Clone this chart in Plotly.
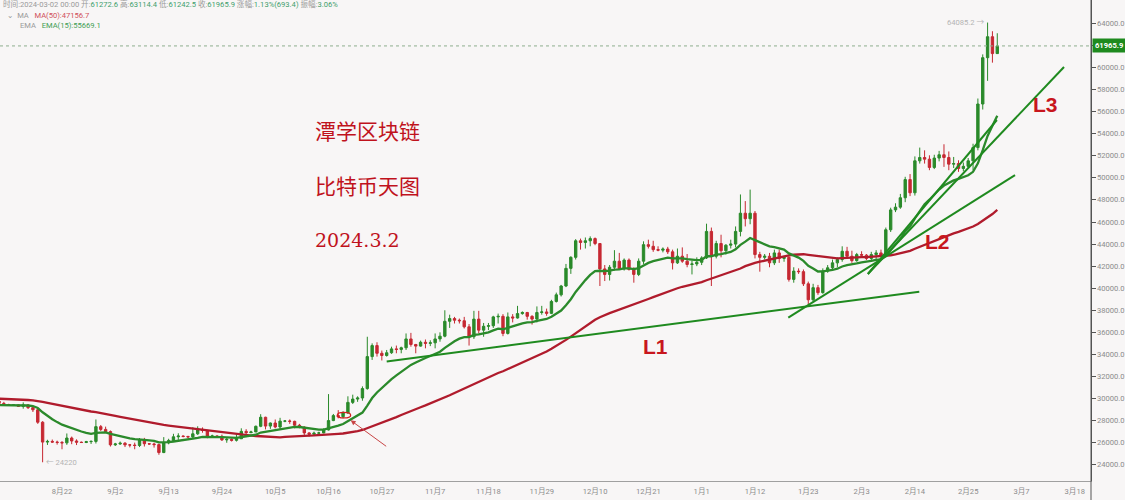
import plotly.graph_objects as go
import pandas as pd

# ---------------- data ----------------
# closes before the visible window (2023-06-20 .. 2023-08-08), only used to warm up MA/EMA
warmup_close = [28300, 30000, 29900, 30700, 30550, 30480, 30270, 30700, 30080, 30450, 30480,
                30590, 30620, 31160, 30770, 30510, 29900, 30350, 30290, 30170, 30410, 30620,
                30390, 31470, 30320, 30290, 30250, 30140, 29860, 29910, 29800, 29910, 29800,
                30080, 29180, 29230, 29350, 29220, 29310, 29350, 29280, 29230,
                29700, 29180, 29180, 29080, 29050, 29040, 29180, 29770]

start_date = "2023-08-09"
end_date = "2024-03-02"

opens = [
    # Aug 9-31
    29770, 29560, 29430, 29400, 29420, 29290, 29420, 29170, 28980, 27850, 26050, 26110, 26050, 26020,
    25980, 26420, 26150, 26040, 26010, 26090, 26110, 27450, 27200,
    # Sep
    27000, 25800, 25880, 25950, 25800, 25780, 25740, 26230, 25900, 25880, 25820, 25100, 25980, 26200,
    26530, 26600, 26560, 26520, 26800, 27200, 27100, 26580, 26600, 26570, 26250, 26300, 26210, 26350,
    27020, 26900,
    # Oct
    26970, 27480, 28300, 27500, 27780, 27420, 27950, 27960, 27930, 27580, 27400, 26880, 26760, 26860,
    26880, 27150, 28000, 28450, 28350, 28700, 29650, 29950, 30050, 30900, 33800, 34800, 34100, 33900,
    34150, 34500, 34450,
    # Nov
    34600, 35400, 34900, 34750, 35100, 35000, 35050, 35400, 35650, 37000, 37250, 37100, 37050, 36500,
    35600, 37200, 36200, 36550, 36600, 37400, 37450, 35900, 37400, 37300, 37700, 37800, 37450, 37200,
    37800, 37850,
    # Dec
    37720, 38800, 39400, 40200, 41800, 42800, 44300, 44150, 44300, 44500, 44050, 41750, 41250, 41900,
    42450, 41750, 42550, 41700, 41250, 42450, 43950, 43800, 43500, 43450, 43550, 43300, 42300, 42900,
    42450, 42150, 42200,
    # Jan
    42350, 42750, 45150, 42900, 44050, 43400, 43900, 44000, 45150, 46800, 46300, 46800, 43050, 42800,
    42900, 42300, 43200, 42700, 42800, 40800, 41550, 41500, 40400, 38950, 40050, 39600, 41550, 41850,
    42300, 42600, 43350,
    # Feb
    42900, 42500, 43050, 43000, 42700, 43050, 43200, 42950, 45300, 47100, 47350, 48200, 49850, 48650,
    51550, 51850, 51700, 50950, 51800, 52100, 51850, 51250, 51300, 50850, 51050, 51550, 52750, 56700,
    60900,
    # Mar
    62800, 61272.6,
]
highs = [
    30050, 29700, 29520, 29470, 29460, 29650, 29480, 29230, 29050, 27950, 26260, 26280, 26180, 26140,
    26830, 26550, 26300, 26100, 26160, 26200, 28100, 27600, 27450,
    27100, 25980, 26100, 26050, 25880, 26000, 26420, 26430, 25950, 26000, 25900, 26500, 26350, 26800,
    26850, 26650, 26620, 27400, 27480, 27380, 27150, 26720, 26640, 26730, 26420, 26380, 26800, 27300,
    27220, 27080,
    27550, 28580, 28350, 27820, 28100, 28250, 28050, 28100, 27990, 27700, 27480, 26950, 27000, 26990,
    27300, 30400, 28600, 28950, 28850, 30200, 30350, 30200, 31100, 35600, 35000, 35100, 34350, 34400,
    34700, 34800, 34700,
    35900, 35950, 34950, 35250, 35350, 35280, 35900, 36000, 38000, 37600, 37400, 37250, 37400, 36750,
    37950, 37950, 36850, 36850, 37500, 37700, 37650, 37800, 37650, 38400, 37900, 37850, 37550, 38350,
    38400, 38150,
    38950, 39600, 40300, 42200, 42900, 44450, 44500, 44600, 44700, 44600, 44100, 42100, 42100, 43450,
    43200, 42700, 42700, 41900, 42700, 44250, 44400, 44300, 43800, 43700, 43750, 43500, 43600, 43700,
    43100, 42500, 42800,
    42900, 45850, 45500, 44300, 44850, 44000, 44400, 45600, 48500, 47900, 48940, 47000, 43300, 43100,
    43200, 43500, 43500, 42950, 42900, 41900, 41800, 41700, 40600, 40400, 40300, 41800, 42100, 42600,
    42800, 43800, 43750,
    43400, 43200, 43350, 43100, 43300, 43450, 43500, 45500, 47300, 47700, 48550, 50100, 50350, 51950,
    52750, 52500, 52050, 52100, 52450, 53050, 52400, 51900, 51600, 51400, 51800, 53100, 57200, 61200,
    64085.2,
    63300, 63114.4,
]
lows = [
    29380, 29330, 29340, 29360, 29250, 29080, 29050, 28780, 27700, 24220, 25790, 25990, 25820, 25400,
    25800, 25860, 25780, 25980, 25960, 25880, 25920, 27050, 26900,
    25650, 25700, 25800, 25600, 25570, 25400, 25600, 25650, 25800, 25550, 24900, 25050, 25850, 26150,
    26250, 26480, 26410, 26400, 26700, 26900, 26400, 26500, 26520, 26150, 25990, 26100, 26100, 26330,
    26700, 26880,
    26950, 27400, 27200, 27250, 27300, 27200, 27850, 27700, 27300, 27300, 26560, 26550, 26700, 26820,
    26850, 27100, 27950, 28200, 28200, 28600, 29500, 29700, 29800, 30800, 33500, 33800, 33450, 33800,
    34050, 34100, 34100,
    34400, 34700, 34100, 34700, 34550, 34750, 34550, 35150, 35550, 36400, 36800, 36800, 36350, 34800,
    35400, 35900, 35600, 36200, 36400, 36800, 35650, 35800, 36900, 37250, 37600, 37150, 36700, 36900,
    37600, 37500,
    37650, 38700, 39250, 40100, 41300, 42600, 43500, 43600, 43800, 43900, 40200, 40650, 40700, 41600,
    41650, 41600, 41600, 40500, 41100, 42200, 43600, 43300, 43350, 43250, 43100, 41700, 42200, 42300,
    41900, 41250, 42000,
    42100, 42650, 40200, 42700, 42800, 43050, 43600, 43700, 44700, 45600, 45800, 42700, 41500, 42600,
    41900, 42100, 42300, 42400, 40600, 40500, 41300, 40200, 38500, 38800, 39400, 39500, 41400, 41700,
    41900, 42400, 42700,
    42300, 42400, 42850, 42550, 42500, 42650, 42800, 42800, 45100, 46900, 47200, 47800, 48350, 48400,
    51300, 51300, 50700, 50800, 51500, 51000, 50700, 50900, 50550, 50600, 50900, 50700, 52500, 56200,
    58800,
    60450, 61242.5,
]
closes = [
    29560, 29430, 29400, 29420, 29290, 29420, 29170, 28980, 27850, 26050, 26110, 26050, 26020, 25980,
    26420, 26150, 26040, 26010, 26090, 26110, 27450, 27200, 27000,
    25800, 25880, 25950, 25800, 25780, 25740, 26230, 25900, 25880, 25820, 25100, 25980, 26200, 26530,
    26600, 26560, 26520, 26800, 27200, 27100, 26580, 26600, 26570, 26250, 26300, 26210, 26350, 27020,
    26900, 26970,
    27480, 28300, 27500, 27780, 27420, 27950, 27960, 27930, 27580, 27400, 26880, 26760, 26860, 26880,
    27150, 28000, 28450, 28350, 28700, 29650, 29950, 30050, 30900, 33800, 34800, 34100, 33900, 34150,
    34500, 34450, 34600,
    35400, 34900, 34750, 35100, 35000, 35050, 35400, 35650, 37000, 37250, 37100, 37050, 36500, 35600,
    37200, 36200, 36550, 36600, 37400, 37450, 35900, 37400, 37300, 37700, 37800, 37450, 37200, 37800,
    37850, 37720,
    38800, 39400, 40200, 41800, 42800, 44300, 44150, 44300, 44500, 44050, 41750, 41250, 41900, 42450,
    41750, 42550, 41700, 41250, 42450, 43950, 43800, 43500, 43450, 43550, 43300, 42300, 42900, 42450,
    42150, 42200, 42350,
    42750, 45150, 42900, 44050, 43400, 43900, 44000, 45150, 46800, 46300, 46800, 43050, 42800, 42900,
    42300, 43200, 42700, 42800, 40800, 41550, 41500, 40400, 38950, 40050, 39600, 41550, 41850, 42300,
    42600, 43350, 42900,
    42500, 43050, 43000, 42700, 43050, 43200, 42950, 45300, 47100, 47350, 48200, 49850, 48650, 51550,
    51850, 51700, 50950, 51800, 52100, 51850, 51250, 51300, 50850, 51050, 51550, 52750, 56700, 60900,
    62800,
    61272.6, 61965.9,
]

# hand-drawn trend lines (date, price)
trend_names = ["L1", "L2", "L3", "steep"]
trend_start_dates = ["2023-10-28 00:00", "2024-01-18 21:00", "2024-02-04 07:00", "2024-02-04 07:00"]
trend_start_prices = [33357, 37328, 41290, 41290]
trend_end_dates = ["2024-02-14 21:40", "2024-03-05 15:50", "2024-03-15 18:30", "2024-03-01 22:00"]
trend_end_prices = [39685, 50247, 60056, 55251]

tick_dates = pd.date_range("2023-08-22", "2024-03-18", freq="11D")
tick_text = [f"{d.month}月{d.day}" for d in tick_dates]
price_ticks = list(range(24000, 64001, 2000))

hdr_labels = ["时间", "开", "高", "低", "收", "涨幅", "振幅"]
hdr_values = ["2024-03-02 00:00", "61272.6", "63114.4", "61242.5", "61965.9", "1.13%(693.4)", "3.06%"]
last_price = 61965.9
max_high = 64085.2
min_low = 24220
ma_label = "MA(50):47156.7"
ema_label = "EMA(15):55669.1"

# ---------------- derived ----------------
dates = pd.date_range(start_date, end_date, freq="D")
all_close = pd.Series(warmup_close + closes)
n = len(closes)
ma50 = all_close.rolling(50).mean().iloc[-n:].values
ema15 = all_close.ewm(span=15, adjust=False).mean().iloc[-n:].values

GREEN = "#2a8a2a"
RED = "#c62832"
BG = "#f8f6f6"
W, H = 1125, 500
ML, MR, MT, MB = 0, 34, 0, 19
PW, PH = W - ML - MR, H - MT - MB


def px(x):
    return x / PW


def py(y):
    return 1 - y / PH


fig = go.Figure()
fig.add_trace(go.Candlestick(
    x=dates, open=opens, high=highs, low=lows, close=closes,
    increasing=dict(line=dict(color=GREEN, width=1), fillcolor=GREEN),
    decreasing=dict(line=dict(color=RED, width=1), fillcolor=RED),
    whiskerwidth=0, showlegend=False, hoverinfo="skip"))
fig.add_trace(go.Scatter(x=dates, y=ma50, mode="lines", line=dict(color="#b01b2c", width=2.3),
                         showlegend=False, hoverinfo="skip"))
fig.add_trace(go.Scatter(x=dates, y=ema15, mode="lines", line=dict(color="#2b8a2b", width=2.3),
                         showlegend=False, hoverinfo="skip"))
for i in range(len(trend_names)):
    fig.add_trace(go.Scatter(x=[trend_start_dates[i], trend_end_dates[i]],
                             y=[trend_start_prices[i], trend_end_prices[i]],
                             mode="lines", line=dict(color="#1f8a1f", width=2),
                             showlegend=False, hoverinfo="skip"))

shapes = [
    dict(type="line", xref="paper", x0=0, x1=1, yref="y", y0=last_price, y1=last_price,
         line=dict(color="#8fae8f", width=1, dash="dot")),
    dict(type="line", xref="paper", x0=1, x1=1, yref="paper", y0=-0.06, y1=1,
         line=dict(color="#555555", width=1)),
    dict(type="circle", xref="x", yref="y", x0="2023-10-17 19:30", x1="2023-10-20 13:40",
         y0=28236, y1=28744, line=dict(color="#d42020", width=1.3)),
]

FONT = "Roboto, Noto Sans CJK SC, DejaVu Sans"
ann = []
hdr = " ".join(
    f"<span style='color:#9a9a9a'>{l}:</span><span style='color:{'#9a9a9a' if i == 0 else '#3f9e6c'}'>{v}</span>"
    for i, (l, v) in enumerate(zip(hdr_labels, hdr_values)))
ann.append(dict(xref="paper", yref="paper", x=px(1), y=py(4.5), xanchor="left", yanchor="middle",
                text=hdr, showarrow=False, font=dict(family=FONT, size=7.6)))
ann.append(dict(xref="paper", yref="paper", x=px(5), y=py(15), xanchor="left", yanchor="middle",
                text=f"<span style='color:#9a9a9a'>⌄  MA</span>   <span style='color:#d0505a'>{ma_label}</span>",
                showarrow=False, font=dict(family=FONT, size=7.6)))
ann.append(dict(xref="paper", yref="paper", x=px(18), y=py(25.5), xanchor="left", yanchor="middle",
                text=f"<span style='color:#9a9a9a'>EMA</span>   <span style='color:#3f9e55'>{ema_label}</span>",
                showarrow=False, font=dict(family=FONT, size=7.6)))

TXT_RED = "#c0121c"
for txt, yy, fam, sz in [("潭学区块链", 130, "Noto Sans CJK SC", 21),
                         ("比特币天图", 185, "Noto Sans CJK SC", 21),
                         ("2024.3.2", 240, "DejaVu Serif", 19)]:
    ann.append(dict(xref="paper", yref="paper", x=px(313), y=py(yy), xanchor="left", yanchor="middle",
                    text=txt, showarrow=False, font=dict(family=fam, size=sz, color=TXT_RED)))

for txt, xx, yy in [("L1", 655, 346), ("L2", 937, 241), ("L3", 1045, 104.5)]:
    ann.append(dict(xref="paper", yref="paper", x=px(xx), y=py(yy), xanchor="center", yanchor="middle",
                    text=f"<b>{txt}</b>", showarrow=False,
                    font=dict(family="Liberation Sans, Arial", size=21, color="#c8161d")))

# price-axis labels (the current-price box hides the one under it)
for v in price_ticks:
    if abs(v - last_price) < 900:
        continue
    ann.append(dict(xref="paper", yref="y", x=1, y=v, xanchor="left", yanchor="middle",
                    text=f"{v}.0", showarrow=False, xshift=4,
                    font=dict(family=FONT, size=7.6, color="#8c8c8c")))

ann.append(dict(xref="paper", yref="y", x=1, y=last_price, xanchor="left", yanchor="middle",
                text=f"<b>{last_price}</b>", showarrow=False, bgcolor="#1e8a1e", borderpad=2, xshift=1,
                font=dict(family=FONT, size=7.6, color="white")))
ann.append(dict(xref="x", yref="y", x=dates[-3], y=max_high, xanchor="right", yanchor="middle",
                text=f"{max_high} →", showarrow=False, xshift=-2,
                font=dict(family=FONT, size=7.6, color="#b4b4b4")))
ann.append(dict(xref="x", yref="y", x=dates[9], y=min_low, xanchor="left", yanchor="middle",
                text=f"← {min_low}", showarrow=False, xshift=1,
                font=dict(family=FONT, size=7.6, color="#b4b4b4")))
ann.append(dict(xref="x", yref="y", x="2023-10-20 13:40", y=28019, ax=37, ay=27, text="",
                showarrow=True, arrowhead=2, arrowsize=1, arrowwidth=1, arrowcolor="#c84545"))

fig.update_layout(
    width=W, height=H, margin=dict(l=ML, r=MR, t=MT, b=MB),
    paper_bgcolor=BG, plot_bgcolor=BG, showlegend=False,
    shapes=shapes, annotations=ann,
    xaxis=dict(type="date", range=["2023-08-09 04:57", "2024-03-21 08:10"],
               tickvals=list(tick_dates), ticktext=tick_text, showgrid=False, zeroline=False,
               showline=True, linecolor="#a0a0a0", linewidth=1, ticks="", ticklabelstandoff=3,
               tickfont=dict(family=FONT, size=7.6, color="#8c8c8c"),
               rangeslider=dict(visible=False), fixedrange=True),
    yaxis=dict(side="right", range=[22522, 66130], tickvals=price_ticks, showticklabels=False,
               showgrid=False, zeroline=False,
               showline=True, linecolor="#555555", linewidth=1, ticks="outside", ticklen=4,
               tickcolor="#555555", fixedrange=True),
)

fig.write_html("out.html", config={"displayModeBar": False, "staticPlot": True},
               post_script="document.body.style.margin='0px';document.body.style.padding='0px';"
                           "document.body.style.overflow='hidden';")
